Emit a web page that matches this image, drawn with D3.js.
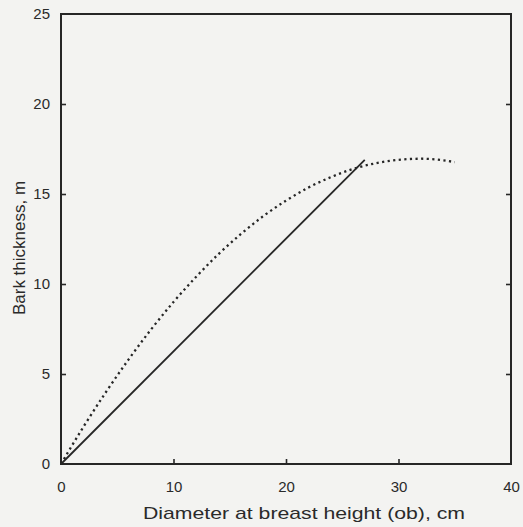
<!DOCTYPE html>
<html>
<head>
<meta charset="utf-8">
<script src="https://cdn.jsdelivr.net/npm/d3@7"></script>
<style>
  html, body { margin: 0; padding: 0; background: #f3f3f1; }
  svg { display: block; }
  text { font-family: "Liberation Sans", Arial, Helvetica, sans-serif; fill: #2a2a2a; }
</style>
</head>
<body>
<svg id="chart" width="523" height="527"></svg>
<script>
const xTicks = [0, 10, 20, 30, 40];
const yTicks = [0, 5, 10, 15, 20, 25];
const innerXTicks = [10, 20, 30];
const innerYTicks = [5, 10, 15, 20];

const solidDbh = [0, 27];
const solidBark = [0, 16.9];

const dottedDbh  = [0, 2, 4, 6, 8, 10, 12, 14, 16, 18, 20, 22, 24, 26, 28, 30, 32, 34, 35];
const dottedBark = [0, 2.07, 4.0, 5.8, 7.47, 9.0, 10.39, 11.66, 12.78, 13.78, 14.63, 15.36, 15.94, 16.4, 16.71, 16.9, 16.96, 16.87, 16.77];

const xLabel = "Diameter at breast height (ob), cm";
const yLabel = "Bark thickness, m";

const svg = d3.select("#chart");
const W = 523, H = 527;
const margin = { left: 61, right: 12, top: 14, bottom: 63 };
const x0 = margin.left, x1 = W - margin.right, y0 = H - margin.bottom, y1 = margin.top;

const x = d3.scaleLinear().domain([0, 40]).range([x0, x1]);
const y = d3.scaleLinear().domain([0, 25]).range([y0, y1]);
const ink = "#262626";

// bottom axis (labels + inward ticks)
const gx = svg.append("g").attr("transform", `translate(0,${y0})`)
  .call(d3.axisBottom(x).tickValues(xTicks).tickSize(0).tickPadding(17).tickFormat(d3.format("d")));
gx.select(".domain").remove();
gx.selectAll("text").style("font-size", "15px").attr("fill", ink);

svg.append("g").attr("transform", `translate(0,${y0})`)
  .call(d3.axisTop(x).tickValues(innerXTicks).tickSize(5).tickFormat(""))
  .call(g => g.select(".domain").remove())
  .selectAll("line").attr("stroke", ink).attr("stroke-width", 1.6);

// left axis
const gy = svg.append("g").attr("transform", `translate(${x0},0)`)
  .call(d3.axisLeft(y).tickValues(yTicks).tickSize(0).tickPadding(11).tickFormat(d3.format("d")));
gy.select(".domain").remove();
gy.selectAll("text").style("font-size", "15px").attr("fill", ink);

svg.append("g").attr("transform", `translate(${x0},0)`)
  .call(d3.axisRight(y).tickValues(innerYTicks).tickSize(5).tickFormat(""))
  .call(g => g.select(".domain").remove())
  .selectAll("line").attr("stroke", ink).attr("stroke-width", 1.6);

// right axis ticks
svg.append("g").attr("transform", `translate(${x1},0)`)
  .call(d3.axisLeft(y).tickValues(innerYTicks).tickSize(5).tickFormat(""))
  .call(g => g.select(".domain").remove())
  .selectAll("line").attr("stroke", ink).attr("stroke-width", 1.6);

// frame
svg.append("rect")
  .attr("x", x0).attr("y", y1).attr("width", x1 - x0).attr("height", y0 - y1)
  .attr("fill", "none").attr("stroke", ink).attr("stroke-width", 2);

const line = d3.line().x(d => x(d[0])).y(d => y(d[1])).curve(d3.curveMonotoneX);

svg.append("path")
  .datum(solidDbh.map((d, i) => [d, solidBark[i]]))
  .attr("d", d3.line().x(d => x(d[0])).y(d => y(d[1])))
  .attr("fill", "none").attr("stroke", ink).attr("stroke-width", 1.8);

svg.append("path")
  .datum(dottedDbh.map((d, i) => [d, dottedBark[i]]))
  .attr("d", line)
  .attr("fill", "none").attr("stroke", ink).attr("stroke-width", 2.3)
  .attr("stroke-dasharray", "2.2,3.4");

// axis titles
svg.append("text")
  .attr("x", 304).attr("y", 519)
  .attr("text-anchor", "middle").style("font-size", "17px")
  .attr("textLength", 322).attr("lengthAdjust", "spacingAndGlyphs")
  .text(xLabel);

svg.append("text")
  .attr("transform", `translate(25,248) rotate(-90)`)
  .attr("text-anchor", "middle").style("font-size", "17px")
  .text(yLabel);
</script>
</body>
</html>
